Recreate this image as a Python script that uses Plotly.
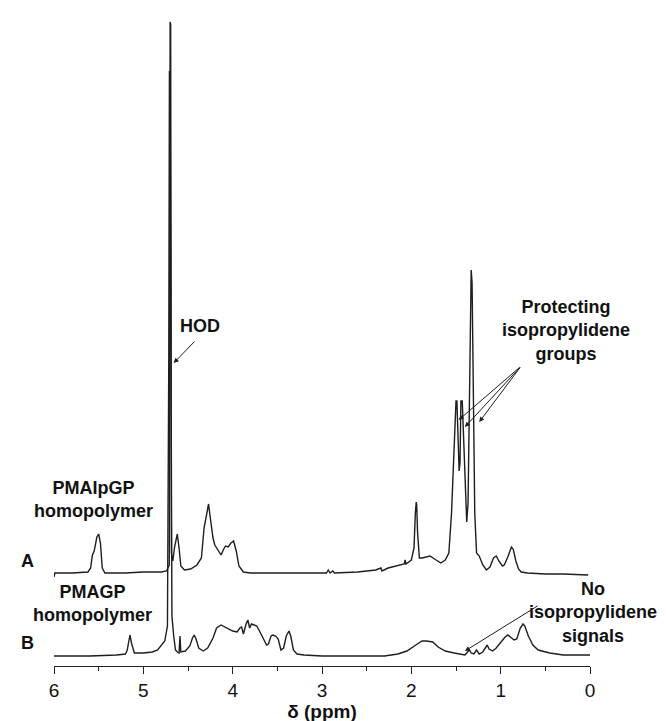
import plotly.graph_objects as go

# ---- data (chemical shift in ppm, intensity in a.u.) ----
ppm_A = [6.00, 5.99, 5.80, 5.62, 5.59, 5.57, 5.55, 5.52, 5.50, 5.48, 5.46, 5.43, 5.20, 5.00,
         4.80, 4.74, 4.71, 4.700, 4.694, 4.686, 4.67, 4.65, 4.63, 4.62, 4.60, 4.58, 4.54, 4.47,
         4.40, 4.35, 4.32, 4.29, 4.27, 4.25, 4.22, 4.20, 4.16, 4.13, 4.10, 4.08, 4.05, 4.02,
         3.99, 3.96, 3.93, 3.88, 3.80, 3.50, 3.20, 2.95, 2.93, 2.91, 2.88, 2.86, 2.60, 2.40,
         2.34, 2.33, 2.26, 2.15, 2.08, 2.07, 2.06, 2.00, 1.97, 1.955, 1.945, 1.94, 1.93, 1.91,
         1.88, 1.83, 1.79, 1.74, 1.67, 1.62, 1.58, 1.55, 1.52, 1.50, 1.49, 1.475, 1.465, 1.455,
         1.445, 1.43, 1.41, 1.39, 1.38, 1.365, 1.35, 1.34, 1.33, 1.32, 1.31, 1.29, 1.27, 1.24,
         1.20, 1.16, 1.12, 1.08, 1.05, 1.02, 0.98, 0.96, 0.92, 0.88, 0.86, 0.83, 0.80, 0.77,
         0.70, 0.50, 0.30, 0.02]
int_A = [-4, 0, 0, 1, 5, 18, 22, 36, 39, 30, 5, 0, 0, 1,
         1, 2, 8, 551, 549, 20, 12, 26, 36, 39, 25, 7, 3, 4,
         8, 15, 45, 62, 69, 55, 35, 28, 22, 18, 24, 27, 26, 30,
         32, 22, 7, 1, 0, 0, 0, 0, 3, 0, 2, 0, 1, 3,
         5, 2, 5, 7, 9, 13, 9, 13, 25, 60, 71, 68, 40, 15,
         15, 16, 17, 14, 10, 13, 20, 60, 130, 172, 172, 140, 102, 110,
         172, 172, 120, 70, 51, 70, 200, 280, 303, 290, 200, 60, 20, 17,
         8, 3, 6, 15, 17, 12, 7, 8, 16, 26, 24, 12, 4, 1,
         0, -1, -1, -2]

ppm_B = [6.00, 5.60, 5.30, 5.20, 5.18, 5.16, 5.15, 5.13, 5.10, 5.00, 4.90, 4.84, 4.80, 4.76,
         4.73, 4.715, 4.708, 4.700, 4.690, 4.68, 4.66, 4.64, 4.62, 4.60, 4.59, 4.58, 4.53, 4.48,
         4.45, 4.43, 4.41, 4.38, 4.33, 4.28, 4.22, 4.18, 4.13, 4.08, 4.03, 4.00, 3.95, 3.92,
         3.90, 3.88, 3.85, 3.83, 3.81, 3.79, 3.76, 3.73, 3.70, 3.66, 3.62, 3.60, 3.57, 3.55,
         3.52, 3.49, 3.46, 3.43, 3.40, 3.37, 3.35, 3.32, 3.28, 3.20, 3.00, 2.60, 2.30, 2.15,
         2.05, 1.95, 1.88, 1.83, 1.79, 1.76, 1.70, 1.62, 1.52, 1.45, 1.40, 1.37, 1.35, 1.33,
         1.30, 1.27, 1.24, 1.20, 1.17, 1.15, 1.13, 1.09, 1.05, 1.00, 0.95, 0.92, 0.88, 0.85,
         0.82, 0.78, 0.75, 0.73, 0.69, 0.64, 0.58, 0.45, 0.30, 0.10, 0.00]
int_B = [0, 0, 1, 2, 6, 18, 21, 12, 3, 3, 4, 6, 10, 15,
         30, 300, 585, 583, 300, 40, 20, 6, 4, 3, 20, 4, 5, 10,
         18, 21, 17, 8, 5, 8, 18, 28, 31, 29, 27, 25, 24, 28,
         29, 22, 32, 36, 28, 32, 31, 30, 25, 18, 11, 12, 20, 21,
         20, 17, 6, 8, 20, 25, 20, 6, 2, 1, 0, 0, 0, 2,
         5, 11, 15, 15, 14, 14, 9, 5, 3, 2, 1, 4, 6, 3,
         2, 6, 2, 4, 9, 11, 7, 5, 8, 14, 19, 21, 18, 16,
         17, 28, 32, 30, 20, 11, 6, 3, 1, 1, 1]

x_ticks = [6, 5, 4, 3, 2, 1, 0]
tick_text = ["6", "5", "4", "3", "2", "1", "0"]

offset_A = 83  # vertical stacking offset of spectrum A

line_col = "#1e1e1e"
FONT = "Liberation Sans, Arial, sans-serif"

fig = go.Figure()
fig.add_trace(go.Scatter(x=ppm_A, y=[v + offset_A for v in int_A], mode="lines",
                         line=dict(color=line_col, width=1.4), showlegend=False))
fig.add_trace(go.Scatter(x=ppm_B, y=int_B, mode="lines",
                         line=dict(color=line_col, width=1.4), showlegend=False))

txt = dict(size=18, color="#111111", family=FONT)
ann = []
def label(x, y, text, xref="x"):
    ann.append(dict(x=x, y=y, xref=xref, yref="y", text=text, showarrow=False,
                    xanchor="center", yanchor="middle",
                    font=txt, align="center"))
label(-0.05, 95, "<b>A</b>", "paper")
label(-0.05, 13, "<b>B</b>", "paper")
label(5.56, 157, "<b>PMAIpGP<br>homopolymer</b>")
label(5.57, 53, "<b>PMAGP<br>homopolymer</b>")
label(4.37, 330, "<b>HOD</b>")
label(0.27, 326, "<b>Protecting<br>isopropylidene<br>groups</b>")
label(1.005, 44, "<b>No<br>isopropylidene<br>signals</b>", "paper")

def arrow(x, y, ax, ay):
    ann.append(dict(x=x, y=y, ax=ax, ay=ay, xref="x", yref="y", axref="x", ayref="y",
                    text="", showarrow=True, arrowhead=2, arrowsize=1, arrowwidth=1,
                    arrowcolor=line_col))
arrow(4.66, 293, 4.41, 316)
arrow(1.47, 236, 0.77, 290)
arrow(1.40, 229, 0.77, 290)
arrow(1.24, 234, 0.77, 290)
arrow(1.40, 5, 0.57, 51)

fig.update_layout(
    width=666, height=721,
    margin=dict(l=46, r=84, t=10, b=63),
    paper_bgcolor="white", plot_bgcolor="white",
    annotations=ann,
    xaxis=dict(range=[6, 0], tickvals=x_ticks, ticktext=tick_text,
               ticks="outside", ticklen=7, tickwidth=1, tickcolor="#222",
               showline=True, linecolor="#222", linewidth=1,
               showgrid=False, zeroline=False,
               tickfont=dict(size=19, color="#111", family=FONT),
               minor=dict(dtick=0.5, tick0=0, ticks="outside", ticklen=4,
                          tickwidth=1, tickcolor="#222", showgrid=False),
               title=dict(text="<b>δ (ppm)</b>", standoff=0,
                          font=dict(size=19, color="#111", family=FONT))),
    yaxis=dict(range=[-10, 638], visible=False),
)

fig.write_html("out.html")
